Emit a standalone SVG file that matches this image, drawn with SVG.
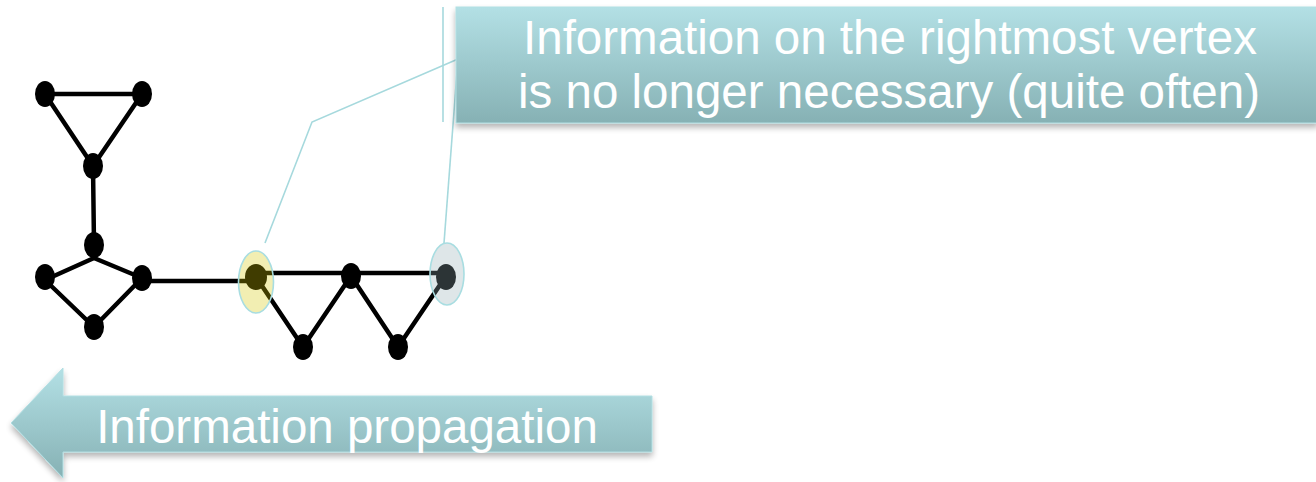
<svg xmlns="http://www.w3.org/2000/svg" width="1316" height="482" viewBox="0 0 1316 482">
<style>
.edge{stroke:#000;stroke-width:4.5;stroke-linecap:round;fill:none}
.node{fill:#000}
.call{stroke:#a6d9dd;stroke-width:1.6;fill:none}
.lbl{font-family:"Liberation Sans",Arial,sans-serif;font-size:47.5px;fill:#fff;text-anchor:middle}
</style>
<defs>
<linearGradient id="tg" x1="0" y1="0" x2="0" y2="1">
<stop offset="0" stop-color="#b3e0e5"/>
<stop offset="1" stop-color="#86b1b4"/>
</linearGradient>
<filter id="sh" x="-5%" y="-10%" width="110%" height="140%">
<feGaussianBlur in="SourceAlpha" stdDeviation="3"/>
<feOffset dx="0" dy="4" result="b"/>
<feComponentTransfer><feFuncA type="linear" slope="0.3"/></feComponentTransfer>
<feMerge><feMergeNode/><feMergeNode in="SourceGraphic"/></feMerge>
</filter>
</defs>
<rect width="1316" height="482" fill="#fff"/>
<g id="edges">
<line class="edge" x1="45" y1="94" x2="142" y2="94"/>
<line class="edge" x1="45" y1="94" x2="93" y2="166"/>
<line class="edge" x1="142" y1="94" x2="93" y2="166"/>
<line class="edge" x1="93" y1="166" x2="94" y2="245"/>
<line class="edge" x1="94" y1="258" x2="45" y2="280"/>
<line class="edge" x1="94" y1="258" x2="142" y2="278"/>
<line class="edge" x1="45" y1="280" x2="94" y2="327"/>
<line class="edge" x1="94" y1="327" x2="142" y2="278"/>
<line class="edge" x1="142" y1="281" x2="256" y2="281"/>
<line class="edge" x1="256" y1="273" x2="446" y2="273"/>
<line class="edge" x1="256" y1="277" x2="303" y2="347"/>
<line class="edge" x1="303" y1="347" x2="351" y2="276"/>
<line class="edge" x1="351" y1="276" x2="398" y2="347"/>
<line class="edge" x1="398" y1="347" x2="446" y2="276"/>
</g>
<g id="nodes">
<ellipse id="n-a" class="node" cx="45" cy="94" rx="10" ry="13"/>
<ellipse id="n-b" class="node" cx="142" cy="94" rx="10" ry="13"/>
<ellipse id="n-c" class="node" cx="93" cy="166" rx="10" ry="13"/>
<ellipse id="n-d" class="node" cx="94" cy="245" rx="10" ry="13"/>
<ellipse id="n-e" class="node" cx="45" cy="277" rx="10" ry="13"/>
<ellipse id="n-f" class="node" cx="142" cy="278" rx="10" ry="13"/>
<ellipse id="n-g" class="node" cx="94" cy="327" rx="10" ry="13"/>
<ellipse id="n-h" class="node" cx="256" cy="277" rx="11" ry="13"/>
<ellipse id="n-i" class="node" cx="351" cy="276" rx="10" ry="13"/>
<ellipse id="n-j" class="node" cx="446" cy="277" rx="10" ry="13"/>
<ellipse id="n-k" class="node" cx="303" cy="347" rx="10" ry="13"/>
<ellipse id="n-l" class="node" cx="398" cy="347" rx="10" ry="13"/>
</g>
<g id="highlights">
<ellipse cx="256" cy="282" rx="17.5" ry="31" fill="#d5c800" fill-opacity="0.3" stroke="#a8dde1" stroke-width="1.6"/>
<ellipse cx="447" cy="274" rx="17" ry="31" fill="#93adb4" fill-opacity="0.3" stroke="#a8dde1" stroke-width="1.6"/>
</g>
<g id="callout-lines">
<polyline class="call" points="265,243 312,122 458,59"/>
<line class="call" x1="444" y1="243" x2="458" y2="59"/>
<line class="call" x1="443" y1="7" x2="443" y2="122"/>
</g>
<g id="callout">
<rect x="456" y="7" width="862" height="116" fill="url(#tg)" stroke="#b2dfe3" stroke-width="1" filter="url(#sh)"/>
<text class="lbl" x="890" y="54">Information on the rightmost vertex</text>
<text class="lbl" x="889" y="108">is no longer necessary (quite often)</text>
</g>
<g id="arrow">
<polygon points="11,423 63,368 63,396 652,396 652,452 63,452 63,478" fill="url(#tg)" stroke="#b2dfe3" stroke-width="1" filter="url(#sh)"/>
<text class="lbl" x="347" y="443">Information propagation</text>
</g>
</svg>
